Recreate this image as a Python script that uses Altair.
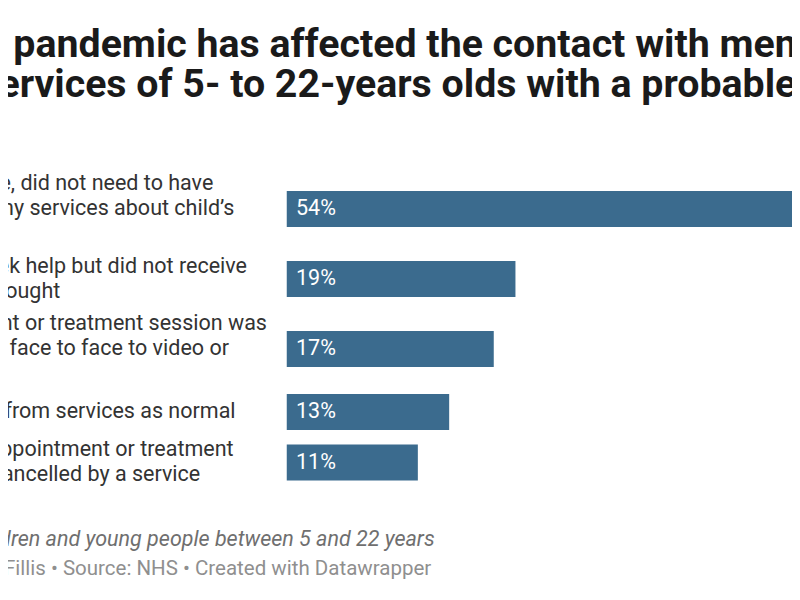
import altair as alt
import pandas as pd

# ---- data ----
categories = [
    "No real change, did not need to have\ncontact with any services about child\u2019s\nmental health",
    "We tried to seek help but did not receive\nthe help they sought",
    "An appointment or treatment session was\nswitched from face to face to video or\ntelephone",
    "Received help from services as normal",
    "An arranged appointment or treatment\nsession was cancelled by a service",
]
values = [54.0, 19.0, 17.2, 13.5, 10.9]
value_labels = ["54%", "19%", "17%", "13%", "11%"]

title_lines = [
    "How the pandemic has affected the contact with mental",
    "health services of 5- to 22-years olds with a probable mental",
    "disorder",
]
notes = ["Sample of children and young people between 5 and 22 years"]
credits = ["Chart: Michael Fillis \u2022 Source: NHS \u2022 Created with Datawrapper"]

# ---- layout (Datawrapper-style rows: row height follows label line count) ----
LINE_H = 25
BAR_H = 36
GAP = 7.5
rows = []
cursor = 0.0
for lab, v, t in zip(categories, values, value_labels):
    n = lab.count("\n") + 1
    h = max(n * LINE_H, BAR_H)
    center = cursor + h / 2
    rows.append({
        "label": lab, "value": v, "text": t,
        "pos": center,
        "label_pos": center - (n - 1) * LINE_H / 2,
    })
    cursor += h + GAP
total = cursor - GAP
df = pd.DataFrame(rows)

SVG_W = 784
SVG_H = 576
PAD_L = 278.5
PAD_T = 163.5
LABEL_X = -419.5
TITLE_X = -428
PLOT_W = SVG_W - PAD_L
PX_PER_PCT = 12.05
FONT = "Roboto"

y_scale = alt.Scale(domain=[0, total], reverse=True, nice=False, zero=False, padding=0)
x_scale = alt.Scale(domain=[0, PLOT_W / PX_PER_PCT], nice=False, padding=0)

base = alt.Chart(df)

bars = base.mark_bar(color="#3b6b8e", size=BAR_H, orient="horizontal", clip=True).encode(
    x=alt.X("value:Q", scale=x_scale, axis=None),
    y=alt.Y("pos:Q", scale=y_scale, axis=None),
)

value_text = base.mark_text(
    align="left", baseline="middle", dx=9.5, color="white", fontSize=21.5, font=FONT
).encode(x=alt.datum(0), y=alt.Y("pos:Q", scale=y_scale, axis=None), text="text:N")

labels = base.mark_text(
    align="left", baseline="middle", lineBreak="\n", lineHeight=LINE_H,
    fontSize=21.5, font=FONT, color="#333333"
).encode(x=alt.value(LABEL_X), y=alt.Y("label_pos:Q", scale=y_scale, axis=None), text="label:N")

note = alt.Chart(pd.DataFrame({"t": notes})).mark_text(
    align="left", baseline="alphabetic", fontSize=21.5, font=FONT,
    fontStyle="italic", color="#6f6f6f"
).encode(x=alt.value(LABEL_X), y=alt.value(374.5), text="t:N")

credit = alt.Chart(pd.DataFrame({"t": credits})).mark_text(
    align="left", baseline="alphabetic", fontSize=20.5, font=FONT, color="#8f8f8f"
).encode(x=alt.value(LABEL_X), y=alt.value(403.5), text="t:N")

chart = alt.layer(bars, value_text, labels, note, credit).properties(
    width=PLOT_W,
    height=total,
    padding={"left": PAD_L, "top": PAD_T, "right": 0, "bottom": SVG_H - PAD_T - total},
    autosize=alt.AutoSizeParams(type="none"),
    title=alt.TitleParams(
        text=title_lines, anchor="start", frame="group", dx=TITLE_X,
        fontSize=39.3, fontWeight="bold", font=FONT, lineHeight=40,
        color="#1a1a1a", offset=26,
    ),
).configure(font=FONT, background="white").configure_view(stroke=None)

chart.save("out.html", embed_options={"renderer": "svg", "actions": False})
